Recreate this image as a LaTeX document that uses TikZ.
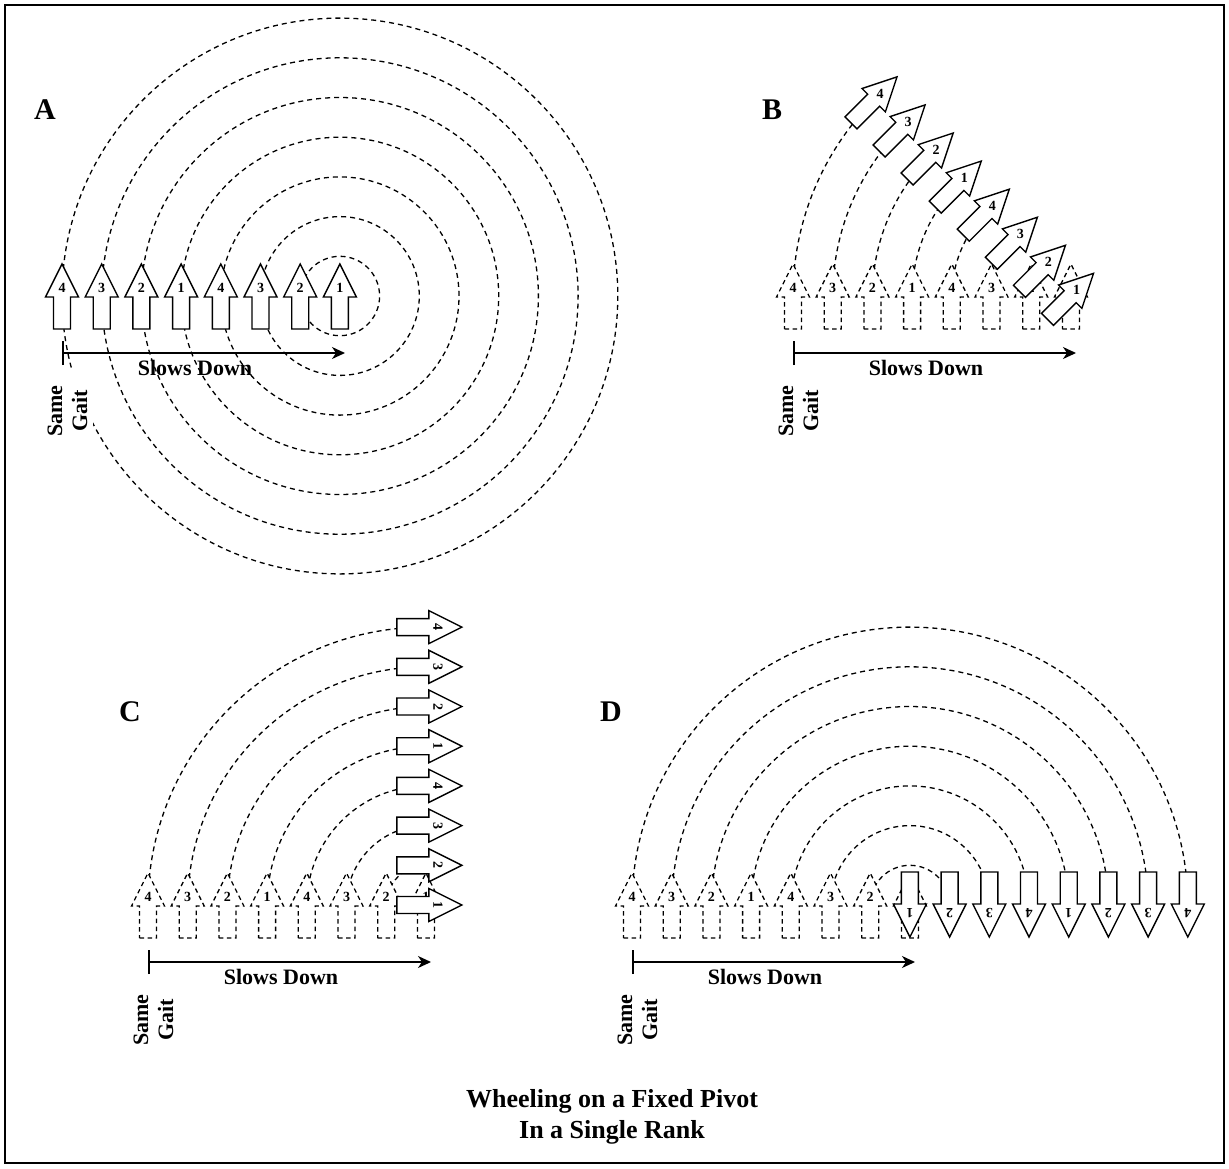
\documentclass[tikz,border=0pt]{standalone}
\usepackage{fontspec}
\setmainfont{Liberation Serif}
\usetikzlibrary{arrows.meta}
\newcommand\numfnt{\fontsize{14}{14}\selectfont\bfseries}
\newcommand\lblfnt{\fontsize{22}{25}\selectfont\bfseries}
\newcommand\panelfnt{\fontsize{30}{30}\selectfont\bfseries}
\newcommand\titlefnt{\fontsize{26}{31}\selectfont\bfseries}
\tikzset{
  solidarw/.style={draw=black, fill=white, line width=1.4pt, line join=miter},
  ghostarw/.style={draw=black, fill=white, line width=1.3pt, dash pattern=on 4.5pt off 3.5pt},
  track/.style={draw=black, line width=1.3pt, dash pattern=on 5pt off 4pt},
  slowarw/.style={line width=1.5pt, {Bar[width=24pt,line width=1.5pt]}-{Stealth[length=13pt,width=12pt,inset=4pt]}},
  lbl/.style={font=\lblfnt, inner sep=1pt},
  gait/.style={font=\lblfnt, align=center, rotate=90, fill=white, inner xsep=14pt, inner ysep=6pt},
  panel/.style={font=\panelfnt, inner sep=0pt},
  frame/.style={draw=black, line width=1.5pt},
  pics/arw/.style args={#1/#2/#3}{code={
     \coordinate (-c) at (0,0);
     \path[#2] (-8.5,-33) -- (8.5,-33) -- (8.5,-1) -- (16.5,-1) -- (0,32) -- (-16.5,-1) -- (-8.5,-1) -- cycle;
     \node[font=\numfnt, inner sep=0pt, rotate=#3] (-n) at (0,8) {#1};
  }},
}
\begin{document}
\begin{tikzpicture}[x=1pt,y=1pt]
\useasboundingbox (0,0) rectangle (1229,-1168);
\path[frame] (5,-5) rectangle (1224,-1163);

% ---------------- Panel A ----------------
\foreach \i in {0,...,7}{\coordinate (A\i) at ({62+39.7*\i},-296);}
\foreach \i in {0,...,6}{\draw[track] (A\i) arc[start angle=180, end angle=-180, radius={39.7*(7-\i)}];}
\foreach \i [evaluate=\i as \lab using {int(4-mod(\i,4))}] in {0,...,7}{
  \pic (pA\i) at (A\i) {arw={\lab/solidarw/0}};}
\coordinate (sA1) at (62,-353);
\coordinate (sA2) at (345,-353);
\draw[slowarw] (sA1) -- (sA2);
\node[lbl] (slA) at (195,-368) {Slows Down};
\node[gait] (sgA) at (67.5,-411) {Same\\Gait};
\node[panel] (lA) at (45,-110) {A};

% ---------------- Panel B ----------------
\foreach \i in {0,...,7}{\coordinate (B\i) at ({793+39.7*\i},-296);}
\foreach \i in {0,...,7}{\coordinate (RB\i) at ([shift={(135:{39.7*(7-\i)})}]B7);}
\foreach \i in {0,...,6}{\draw[track] (B\i) arc[start angle=180, end angle=135, radius={39.7*(7-\i)}];}
\foreach \i [evaluate=\i as \lab using {int(4-mod(\i,4))}] in {0,...,7}{
  \pic (gB\i) at (B\i) {arw={\lab/ghostarw/0}};}
\foreach \i [evaluate=\i as \lab using {int(4-mod(\i,4))}] in {0,...,7}{
  \pic[rotate=-45] (rB\i) at (RB\i) {arw={\lab/solidarw/0}};}
\coordinate (sB1) at (793,-353);
\coordinate (sB2) at (1076,-353);
\draw[slowarw] (sB1) -- (sB2);
\node[lbl] (slB) at (926,-368) {Slows Down};
\node[gait] (sgB) at (798.5,-411) {Same\\Gait};
\node[panel] (lB) at (772,-110) {B};

% ---------------- Panel C ----------------
\foreach \i in {0,...,7}{\coordinate (C\i) at ({148+39.7*\i},-905);}
\foreach \i in {0,...,7}{\coordinate (RC\i) at ([shift={(4,{39.7*(7-\i)})}]C7);}
\foreach \i in {0,...,6}{\draw[track] (C\i) arc[start angle=180, end angle=90, radius={39.7*(7-\i)}] -- ++(4,0);}
\foreach \i [evaluate=\i as \lab using {int(4-mod(\i,4))}] in {0,...,7}{
  \pic (gC\i) at (C\i) {arw={\lab/ghostarw/0}};}
\foreach \i [evaluate=\i as \lab using {int(4-mod(\i,4))}] in {0,...,7}{
  \pic[rotate=-90] (rC\i) at (RC\i) {arw={\lab/solidarw/-90}};}
\coordinate (sC1) at (148,-962);
\coordinate (sC2) at (431,-962);
\draw[slowarw] (sC1) -- (sC2);
\node[lbl] (slC) at (281,-977) {Slows Down};
\node[gait] (sgC) at (153.5,-1020) {Same\\Gait};
\node[panel] (lC) at (130,-712) {C};

% ---------------- Panel D ----------------
\foreach \i in {0,...,7}{\coordinate (D\i) at ({632+39.7*\i},-905);}
\foreach \i in {0,...,7}{\coordinate (RD\i) at ([shift={(0:{39.7*(7-\i)})}]D7);}
\foreach \i in {0,...,6}{\draw[track] (D\i) arc[start angle=180, end angle=0, radius={39.7*(7-\i)}];}
\foreach \i [evaluate=\i as \lab using {int(4-mod(\i,4))}] in {0,...,7}{
  \pic (gD\i) at (D\i) {arw={\lab/ghostarw/0}};}
\foreach \i [evaluate=\i as \lab using {int(4-mod(\i,4))}] in {0,...,7}{
  \pic[rotate=180] (rD\i) at (RD\i) {arw={\lab/solidarw/180}};}
\coordinate (sD1) at (632,-962);
\coordinate (sD2) at (915,-962);
\draw[slowarw] (sD1) -- (sD2);
\node[lbl] (slD) at (765,-977) {Slows Down};
\node[gait] (sgD) at (637.5,-1020) {Same\\Gait};
\node[panel] (lD) at (611,-712) {D};

% ---------------- Title ----------------
\node[font=\titlefnt, align=center] (title) at (612,-1117) {Wheeling on a Fixed Pivot\\In a Single Rank};
\end{tikzpicture}
\end{document}
